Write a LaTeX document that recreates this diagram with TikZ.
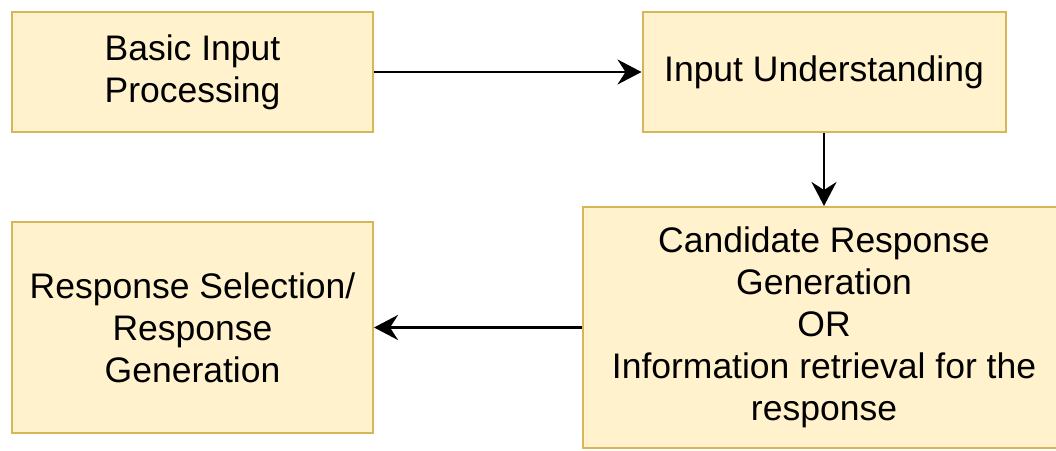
\documentclass[tikz,border=0pt]{standalone}
\usepackage{fontspec}
\setmainfont{Liberation Sans}
\usetikzlibrary{arrows.meta}
\definecolor{boxfill}{HTML}{FFF2CC}
\definecolor{boxline}{HTML}{D6B656}
\begin{document}
\begin{tikzpicture}[x=1pt,y=-1pt,
  stage/.style={draw=boxline, fill=boxfill, line width=2pt, rectangle,
    inner sep=0pt, align=center, text=black,
    font=\fontsize{35.5}{42}\selectfont},
  flow/.style={draw=black, line width=2.6pt,
    -{Stealth[length=24pt,width=25pt,inset=8pt]}}]
  \useasboundingbox (0,0) rectangle (1056,450);

  \node[stage, minimum width=361pt, minimum height=120pt] (basic) at (192.5,72)
    {Basic Input\\Processing};
  \node[stage, minimum width=363pt, minimum height=120pt] (understand) at (824,72)
    {Input Understanding};
  \node[stage, minimum width=482pt, minimum height=241pt] (candidate) at (824,327.5)
    {Candidate Response\\Generation\\OR\\Information retrieval for the\\response};
  \node[stage, minimum width=361pt, minimum height=211pt] (select) at (192.5,327.5)
    {Response Selection/\\Response\\Generation};

  \draw[flow] (basic.east) -- (understand.west);
  \draw[flow] (understand.south) -- (candidate.north);
  \draw[flow] (candidate.west) -- (select.east);
\end{tikzpicture}
\end{document}
